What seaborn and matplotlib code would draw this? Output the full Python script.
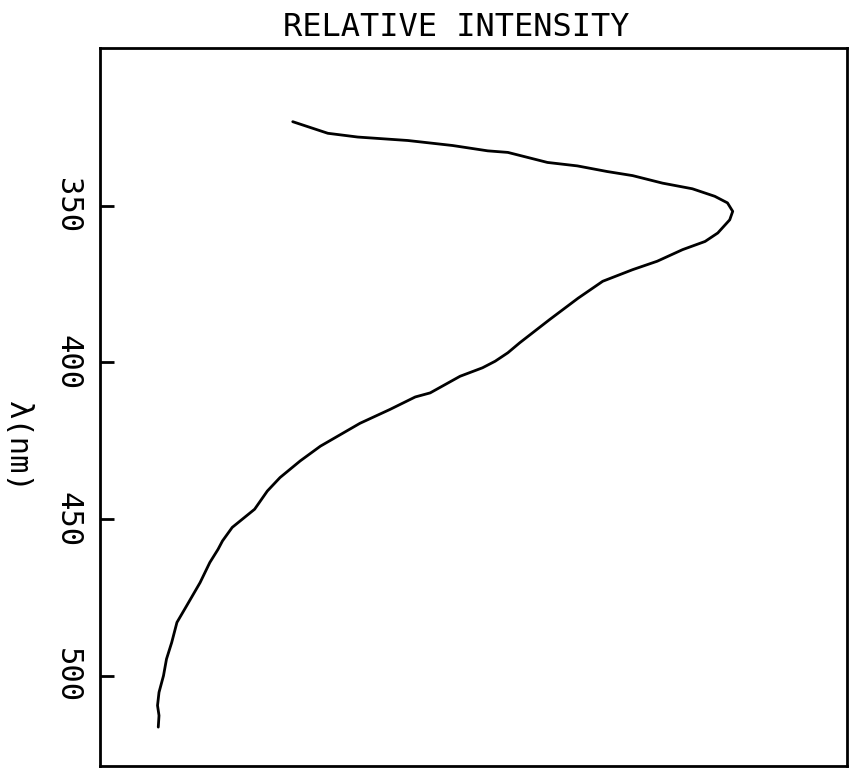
import pandas as pd
import seaborn as sns
import matplotlib
matplotlib.use("Agg")
import matplotlib.pyplot as plt

# emission spectrum (intensity in arbitrary units, 0..1 across the box)
wavelength = [323.2, 326.9, 328.1, 329.2, 330.8, 332.5, 333.0, 336.2, 337.3, 339.1,
              340.4, 342.8, 344.6, 347.0, 349.1, 351.8, 354.5, 358.7, 361.4, 364.0,
              367.7, 370.4, 374.1, 379.5, 386.3, 393.7, 396.9, 399.6, 401.7, 404.4,
              409.7, 411.0, 415.0, 419.4, 426.7, 431.4, 436.7, 441.0, 446.8, 452.6,
              456.9, 459.6, 463.8, 470.2, 477.6, 482.9, 489.3, 494.6, 499.9, 505.2,
              509.4, 512.6, 516.3]
intensity = [0.258, 0.305, 0.345, 0.412, 0.472, 0.519, 0.546, 0.599, 0.639, 0.679,
             0.713, 0.753, 0.793, 0.823, 0.840, 0.847, 0.843, 0.827, 0.810, 0.780,
             0.746, 0.713, 0.673, 0.640, 0.602, 0.562, 0.546, 0.529, 0.512, 0.482,
             0.442, 0.422, 0.388, 0.348, 0.295, 0.268, 0.241, 0.224, 0.207, 0.177,
             0.164, 0.158, 0.147, 0.134, 0.116, 0.103, 0.096, 0.089, 0.085, 0.079,
             0.077, 0.079, 0.078]
yticks = [350, 400, 450, 500]

df = pd.DataFrame({"wl": wavelength, "I": intensity})

sns.set_theme(style="white")
plt.rcParams['font.family'] = ['DejaVu Sans Mono', 'DejaVu Sans']
plt.rcParams['text.color'] = 'black'
plt.rcParams['axes.labelcolor'] = 'black'

fig = plt.figure(figsize=(8.61, 7.69), dpi=100)
ax = fig.add_axes([100/861, 3/769, 747/861, 718/769])

sns.lineplot(data=df, x="I", y="wl", sort=False, estimator=None,
             color="black", linewidth=2, ax=ax)

ax.set_xlim(0, 1)
ax.set_ylim(528.7, 299.7)
ax.set_xticks([])
ax.set_yticks(yticks)
ax.set_yticklabels([str(t) for t in yticks], rotation=-90, va="center", fontsize=22)
ax.tick_params(axis="y", direction="in", length=10, width=2, pad=13,
               colors="black", labelcolor="black", left=True)
for s in ax.spines.values():
    s.set_color("black")
    s.set_linewidth(2)

ax.set_xlabel("")
ax.set_ylabel("λ(nm)", rotation=270, va="center", fontsize=22, color="black")
ax.yaxis.set_label_coords(-0.11, 0.444)
ax.set_title("RELATIVE INTENSITY", fontsize=23, x=0.477, pad=9, color="black")

plt.savefig("out.png", dpi=100)
